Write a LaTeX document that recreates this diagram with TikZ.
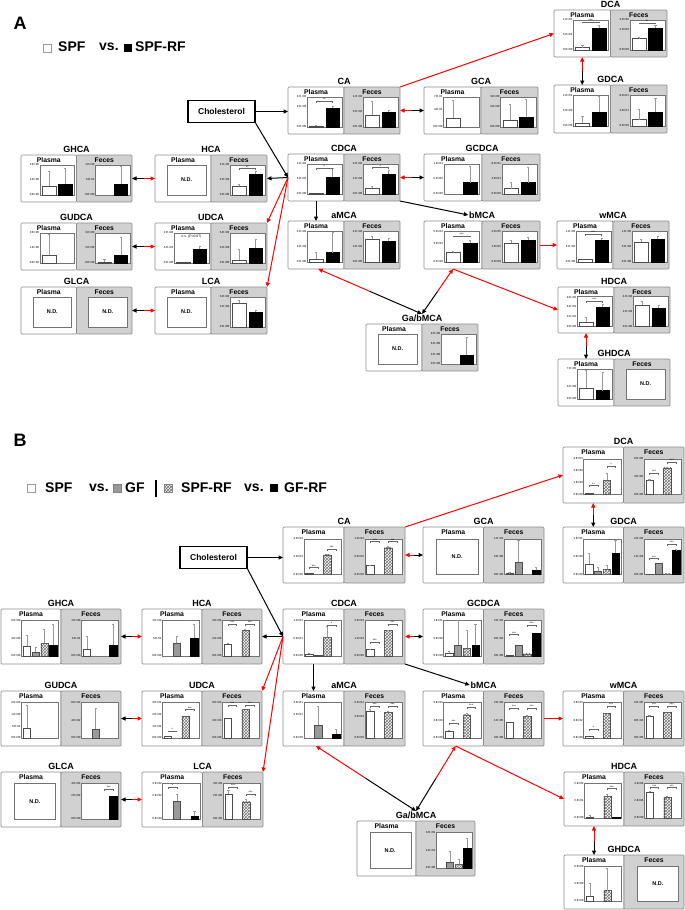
\documentclass[tikz,border=0pt]{standalone}
\usepackage{fontspec}
\setmainfont{Liberation Sans}
\usetikzlibrary{arrows.meta,calc,patterns}

\tikzset{
 sub/.style={draw=black!45, line width=0.7pt, rounded corners=1pt},
 sublab/.style={font=\bfseries\fontsize{6.8}{7.5}\selectfont, inner sep=0pt},
 ttl/.style={font=\bfseries\fontsize{9}{10}\selectfont, inner sep=0.5pt},
 frm/.style={draw=black!55, line width=0.4pt, fill=white},
 tk/.style={font=\fontsize{2.9}{3.2}\selectfont, anchor=east, inner sep=0.6pt},
 sg/.style={font=\fontsize{3.4}{3.5}\selectfont, inner sep=0.2pt, anchor=south},
 nsl/.style={font=\fontsize{3.4}{3.8}\selectfont, inner sep=0pt},
 ndl/.style={font=\bfseries\fontsize{5.5}{6}\selectfont, inner sep=0pt},
 bw/.style={draw=black!70, fill=white, line width=0.35pt},
 bgy/.style={draw=black!70, fill=black!40, line width=0.35pt},
 bh/.style={draw=black!70, fill=white, line width=0.35pt, postaction={pattern=crosshatch, pattern color=black!55}},
 bk/.style={draw=black, fill=black, line width=0.35pt},
 err/.style={draw=black!40, line width=0.3pt},
 arr/.style={-{Triangle[length=4.5pt,width=4pt]}, line width=1pt},
 chol/.style={draw=black, line width=1.2pt, font=\bfseries\fontsize{8.5}{10}\selectfont, minimum width=67pt, minimum height=22pt, inner sep=0pt},
 leg/.style={font=\bfseries\fontsize{14}{16}\selectfont, anchor=west, inner sep=0pt},
 lsq/.style={minimum size=8pt, inner sep=0pt},
 plab/.style={font=\bfseries\fontsize{18}{20}\selectfont, inner sep=0pt},
 pnl/.style={inner sep=0pt, outer sep=0pt}
}

\newcommand\subp[7]{%
 \pgfmathsetmacro\sbW{#3-#1}\pgfmathsetmacro\sbH{#4-#2}%
 \draw[sub,fill=#5] (#1,#2) rectangle (#3,#4);
 \node[sublab] at ({(#1+#3)/2},{#2+5.1}) {#6};
 \pgfmathsetmacro\pxa{#1+0.34*\sbW}%
 \pgfmathsetmacro\pyb{#4-0.15*\sbH}%
 \pgfmathsetmacro\pw{0.62*\sbW}%
 \pgfmathsetmacro\ph{0.64*\sbH}%
 \begin{scope}[shift={(\pxa,\pyb)},x={(\pw pt,0pt)},y={(0pt,\ph pt)}]
 #7
 \end{scope}}

\newcommand\chart[2]{%
 \draw[frm] (0,0) rectangle (1,1);
 \foreach \v/\t in {#1}{\node[tk] at (0,\v) {\t};}
 \foreach \s/\h/\e [count=\i] in {#2}{%
  \pgfmathsetmacro\sl{0.94/\nbars}%
  \pgfmathsetmacro\bxa{0.03+(\i-1)*\sl+0.08*\sl}%
  \pgfmathsetmacro\bxb{\bxa+0.84*\sl}%
  \pgfmathsetmacro\cx{(\bxa+\bxb)/2}%
  \ifdim\h pt>0pt \path[\s] (\bxa,0) rectangle (\bxb,\h);\fi
  \ifdim\e pt>0pt \draw[err] (\cx,\h) -- (\cx,{\h+\e}) ({\cx-0.03},{\h+\e}) -- ({\cx+0.03},{\h+\e});\fi
 }}

\newcommand\sig[4]{%
 \pgfmathsetmacro\sl{0.94/\nbars}%
 \pgfmathsetmacro\sxa{0.03+(#1-0.5)*\sl}%
 \pgfmathsetmacro\sxb{0.03+(#2-0.5)*\sl}%
 \draw[black!60,line width=0.3pt] (\sxa,{#3-0.05}) -- (\sxa,#3) -- (\sxb,#3) -- (\sxb,{#3-0.05});
 \node[sg] at ({(\sxa+\sxb)/2},#3) {#4};}

\newcommand\ND{\draw[frm] (-0.2,0) rectangle (0.92,1); \node[ndl] at (0.36,0.5) {N.D.};}

\newcommand\cmp[8]{%
 \pgfmathsetmacro\xm{(#3+#5)/2}%
 \subp{#3}{#4}{\xm}{#6}{white}{Plasma}{#7}
 \subp{\xm}{#4}{#5}{#6}{black!18}{Feces}{#8}
 \node[ttl] (#1-t) at ({(#3+#5)/2},{#4-6}) {#2};
 \pgfmathsetmacro\cW{#5-#3}\pgfmathsetmacro\cH{#6-#4}%
 \node[pnl,minimum width=\cW pt,minimum height=\cH pt] (#1) at ({(#3+#5)/2},{(#4+#6)/2}) {};}

\newcommand\dbl[2]{%
 \draw[arr,red] ($(#1)!0.5!(#2)$) -- (#1);
 \draw[arr,black] ($(#1)!0.5!(#2)$) -- (#2);}

\begin{document}
\begin{tikzpicture}[x=1pt,y=-1pt]
\useasboundingbox (0,0) rectangle (685,910);
\fill[white] (0,0) rectangle (685,910);

% ================= PANEL A =================
\node[plab] (labA) at (20,23) {A};
\node[lsq,draw=black!40,fill=white] (A-l1) at (47.5,48) {};
\node[leg] (A-l2) at (58,47) {SPF};
\node[leg] (A-l3) at (99,47) {vs.};
\node[lsq,fill=black] (A-l4) at (128,48) {};
\node[leg] (A-l5) at (135,47) {SPF-RF};
\node[chol] (A-chol) at (221.5,111.5) {Cholesterol};

\def\nbars{2}
\cmp{A-CA}{CA}{288}{87}{400}{134}
 {\chart{1/3.E+03,0.67/2.E+03,0/0.E+00}{bw/0.04/0.03,bk/0.62/0.08}\sig{1}{2}{0.86}{**}}
 {\chart{1/1.E+03,0.5/5.E+02,0/0.E+00}{bw/0.4/0.47,bk/0.5/0.05}}
\cmp{A-GCA}{GCA}{424}{87}{538}{134}
 {\chart{1/7.E-01,0.57/4.E-01,0/0.E+00}{bw/0.3/0.6,bk/0/0}}
 {\chart{1/3.E+00,0.67/2.E+00,0/0.E+00}{bw/0.22/0.55,bk/0.33/0.6}}
\cmp{A-DCA}{DCA}{554}{10}{667}{57}
 {\chart{1/1.E+03,0.5/5.E+02,0/0.E+00}{bw/0.08/0.07,bk/0.72/0.1}\sig{1}{2}{0.93}{***}}
 {\chart{1/3.E+00,0.67/2.E+00,0/0.E+00}{bw/0.38/0.06,bk/0.72/0.1}\sig{1}{2}{0.9}{**}}
\cmp{A-GDCA}{GDCA}{554}{85}{667}{133}
 {\chart{1/1.E+01,0.5/5.E+00,0/0.E+00}{bw/0.08/0.25,bk/0.45/0.5}}
 {\chart{1/8.E+01,0.5/4.E+01,0/0.E+00}{bw/0.2/0.35,bk/0.45/0.45}}
\cmp{A-GHCA}{GHCA}{21}{155}{132}{202}
 {\chart{1/2.E+00,0.5/1.E+00,0/0.E+00}{bw/0.3/0.5,bk/0.35/0.55}}
 {\chart{1/1.E+00,0.5/5.E-01,0/0.E+00}{bw/0/0,bk/0.35/0.6}}
\cmp{A-HCA}{HCA}{155}{155}{267}{202}
 {\ND}
 {\chart{1/4.E+03,0.5/2.E+03,0/0.E+00}{bw/0.3/0.05,bk/0.7/0.1}\sig{1}{2}{0.88}{**}}
\cmp{A-CDCA}{CDCA}{288}{154}{400}{201}
 {\chart{1/1.E+02,0.5/5.E+01,0/0.E+00}{bw/0.01/0,bk/0.55/0.3}\sig{1}{2}{0.85}{*}}
 {\chart{1/2.E+03,0.5/1.E+03,0/0.E+00}{bw/0.2/0.05,bk/0.65/0.15}\sig{1}{2}{0.88}{*}}
\cmp{A-GCDCA}{GCDCA}{424}{154}{540}{201}
 {\chart{1/1.E+01,0.5/5.E+00,0/0.E+00}{bw/0/0,bk/0.38/0.55}}
 {\chart{1/8.E+01,0.5/4.E+01,0/0.E+00}{bw/0.18/0.2,bk/0.38/0.5}}
\cmp{A-GUDCA}{GUDCA}{21}{223}{132}{270}
 {\chart{1/3.E+00,0.5/1.E+00,0/0.E+00}{bw/0.25/0.7,bk/0/0}}
 {\chart{1/3.E+00,0.5/2.E+00,0/0.E+00}{bw/0.04/0.1,bk/0.25/0.6}}
\cmp{A-UDCA}{UDCA}{155}{223}{267}{270}
 {\chart{1/2.E+02,0.5/5.E+01,0/0.E+00}{bw/0.02/0,bk/0.45/0.1}\node[nsl] at (0.5,0.88) {n.s. (P=0.07)};}
 {\chart{1/6.E+03,0.5/3.E+03,0/0.E+00}{bw/0.1/0.35,bk/0.5/0.3}}
\cmp{A-aMCA}{aMCA}{288}{221}{400}{269}
 {\chart{1/4.E+03,0.5/2.E+03,0/0.E+00}{bw/0.1/0.2,bk/0.3/0.65}}
 {\chart{1/4.E+04,0.5/2.E+04,0/0.E+00}{bw/0.75/0.1,bk/0.68/0.08}}
\cmp{A-bMCA}{bMCA}{424}{221}{540}{269}
 {\chart{1/5.E+03,0.6/3.E+03,0/0.E+00}{bw/0.3/0.05,bk/0.6/0.1}\sig{1}{2}{0.85}{***}}
 {\chart{1/2.E+05,0.5/1.E+05,0/0.E+00}{bw/0.6/0.1,bk/0.7/0.1}}
\cmp{A-wMCA}{wMCA}{557}{221}{669}{269}
 {\chart{1/1.E+03,0.5/5.E+02,0/0.E+00}{bw/0.08/0,bk/0.72/0.05}\sig{1}{2}{0.9}{***}}
 {\chart{1/1.E+05,0.5/5.E+04,0/0.E+00}{bw/0.65/0.1,bk/0.75/0.1}}
\cmp{A-GLCA}{GLCA}{21}{287}{132}{334}{\ND}{\ND}
\cmp{A-LCA}{LCA}{155}{287}{267}{334}
 {\ND}
 {\chart{1/3.E+04,0.67/2.E+04,0/0.E+00}{bw/0.78/0.1,bk/0.5/0.05}}
\cmp{A-HDCA}{HDCA}{558}{287}{670}{333}
 {\chart{0.97/9.E+01,0.67/6.E+01,0.33/3.E+01,0/0.E+00}{bw/0.15/0.15,bk/0.65/0.08}\sig{1}{2}{0.85}{***}}
 {\chart{1/4.E+04,0.5/2.E+04,0/0.E+00}{bw/0.72/0.12,bk/0.6/0.1}}
\cmp{A-GbMCA}{Ga/bMCA}{366}{324}{478}{371}
 {\ND}
 {\chart{1/9.E+00,0.67/6.E+00,0.33/3.E+00,0/0.E+00}{bw/0/0,bk/0.3/0.6}}
\cmp{A-GHDCA}{GHDCA}{558}{359}{670}{406}
 {\chart{1/7.E+00,0.43/3.E+00,0/0.E+00}{bw/0.35/0.6,bk/0.28/0.6}}
 {\ND}

% connectors A
\draw[arr] (A-chol.east) -- (A-chol.east -| A-CA.west);
\draw[arr] (A-chol.south east) -- (A-CDCA.west);
\dbl{A-CA.east}{A-GCA.west}
\draw[arr,red] (A-CA.north east) -- (A-DCA.west);
\dbl{$(A-DCA.south west)!0.25!(A-DCA.south east)$}{$(A-GDCA.north west)!0.25!(A-GDCA.north east)$}
\draw[arr] (A-CDCA.west) -- (A-HCA.east);
\dbl{A-HCA.west}{A-GHCA.east}
\dbl{A-CDCA.east}{A-GCDCA.west}
\draw[arr] ($(A-CDCA.south west)!0.25!(A-CDCA.south east)$) -- ($(A-aMCA.north west)!0.25!(A-aMCA.north east)$);
\draw[arr] (A-CDCA.south east) -- (A-bMCA-t.west);
\draw[arr,red] (A-CDCA.west) -- (A-UDCA.north east);
\draw[arr,red] (A-CDCA.west) -- (A-LCA.north east);
\dbl{A-UDCA.west}{A-GUDCA.east}
\dbl{A-LCA.west}{A-GLCA.east}
\draw[arr,red] (A-bMCA.east) -- (A-wMCA.west);
\dbl{$(A-aMCA.south west)!0.27!(A-aMCA.south east)$}{A-GbMCA-t.north}
\dbl{$(A-bMCA.south west)!0.25!(A-bMCA.south east)$}{A-GbMCA-t.north}
\draw[arr,red] ($(A-bMCA.south west)!0.25!(A-bMCA.south east)$) -- (A-HDCA.west);
\dbl{$(A-HDCA.south west)!0.25!(A-HDCA.south east)$}{$(A-GHDCA.north west)!0.25!(A-GHDCA.north east)$}

% ================= PANEL B =================
\node[plab] (labB) at (20,440) {B};
\node[lsq,draw=black!40,fill=white] (B-l1) at (31,488) {};
\node[leg] (B-l2) at (45,488) {SPF};
\node[leg] (B-l3) at (89,488) {vs.};
\node[lsq,draw=black!50,fill=black!40] (B-l4) at (117,488) {};
\node[leg] (B-l5) at (125,488) {GF};
\draw[line width=1.1pt] (156,480) -- (156,497);
\node[lsq,draw=black!50,pattern=crosshatch,pattern color=black!60] (B-l6) at (168,488) {};
\node[leg] (B-l7) at (181,488) {SPF-RF};
\node[leg] (B-l8) at (244,488) {vs.};
\node[lsq,fill=black] (B-l9) at (273.5,488) {};
\node[leg] (B-l10) at (284,488) {GF-RF};
\node[chol] (B-chol) at (213.5,557.5) {Cholesterol};

\def\nbars{4}
\cmp{B-CA}{CA}{283}{527}{405}{583}
 {\chart{1/4.E+03,0.5/2.E+03,0/0.E+00}{bw/0.04/0,bgy/0/0,bh/0.55/0.03,bk/0/0}\sig{1}{2}{0.2}{***}\sig{3}{4}{0.72}{***}}
 {\chart{1/1.E+03,0.5/5.E+02,0/0.E+00}{bw/0.25/0.02,bgy/0/0,bh/0.75/0.05,bk/0/0}\sig{1}{2}{0.92}{***}\sig{3}{4}{0.92}{***}}
\cmp{B-GCA}{GCA}{423}{527}{544}{583}
 {\ND}
 {\chart{1/1.E+01,0.5/5.E+00,0/0.E+00}{bw/0.03/0.05,bgy/0.35/0.6,bh/0/0,bk/0.12/0.1}}
\cmp{B-DCA}{DCA}{563}{447}{684}{503}
 {\chart{1/3.E+03,0.67/2.E+03,0.33/1.E+03,0/0.E+00}{bw/0.05/0,bgy/0/0,bh/0.4/0.2,bk/0/0}\sig{1}{2}{0.25}{**}\sig{3}{4}{0.8}{*}}
 {\chart{1/6.E+05,0.5/3.E+05,0/0.E+00}{bw/0.4/0.02,bgy/0/0,bh/0.75/0.02,bk/0/0}\sig{1}{2}{0.6}{***}\sig{3}{4}{0.9}{***}}
\cmp{B-GDCA}{GDCA}{563}{527}{684}{583}
 {\chart{1/1.E+01,0.5/5.E+00,0/0.E+00}{bw/0.3/0.3,bgy/0.1/0.1,bh/0.15/0.1,bk/0.6/0.35}}
 {\chart{1/2.E+03,0.5/1.E+03,0/0.E+00}{bw/0.02/0,bgy/0.33/0,bh/0.02/0,bk/0.67/0.05}\sig{1}{2}{0.45}{***}\sig{3}{4}{0.85}{***}}
\cmp{B-GHCA}{GHCA}{1}{609}{121}{664}
 {\chart{1/6.E+00,0.5/3.E+00,0/0.E+00}{bw/0.28/0.3,bgy/0.1/0.15,bh/0.35/0.4,bk/0.3/0.6}}
 {\chart{1/1.E+00,0.5/5.E-01,0/0.E+00}{bw/0.2/0.35,bgy/0/0,bh/0/0,bk/0.3/0.6}}
\cmp{B-HCA}{HCA}{142}{609}{262}{664}
 {\chart{1/1.E+00,0.5/5.E-01,0/0.E+00}{bw/0/0,bgy/0.35/0.2,bh/0/0,bk/0.5/0.4}}
 {\chart{1/4.E+03,0.5/2.E+03,0/0.E+00}{bw/0.33/0.03,bgy/0/0,bh/0.72/0.03,bk/0/0}\sig{1}{2}{0.9}{***}\sig{3}{4}{0.9}{***}}
\cmp{B-CDCA}{CDCA}{283}{609}{405}{664}
 {\chart{1/1.E+02,0.5/5.E+01,0/0.E+00}{bw/0.05/0.02,bgy/0.02/0,bh/0.53/0.3,bk/0/0}\sig{3}{4}{0.88}{*}}
 {\chart{1/2.E+03,0.5/1.E+03,0/0.E+00}{bw/0.18/0.02,bgy/0/0,bh/0.72/0.02,bk/0/0}\sig{1}{2}{0.38}{***}\sig{3}{4}{0.9}{***}}
\cmp{B-GCDCA}{GCDCA}{423}{609}{544}{664}
 {\chart{1/1.E+01,0.5/5.E+00,0/0.E+00}{bw/0.08/0.05,bgy/0.3/0.7,bh/0.22/0.5,bk/0.3/0.6}}
 {\chart{1/2.E+03,0.5/8.E+02,0/0.E+00}{bw/0.02/0,bgy/0.3/0,bh/0.05/0,bk/0.65/0}\sig{1}{2}{0.6}{***}\sig{3}{4}{0.87}{***}}
\cmp{B-GUDCA}{GUDCA}{1}{691}{121}{746}
 {\chart{1/2.E+00,0.67/1.E+00,0.33/5.E-01,0/0.E+00}{bw/0.28/0.65,bgy/0/0,bh/0/0,bk/0/0}}
 {\chart{1/8.E+02,0.5/4.E+02,0/0.E+00}{bw/0/0,bgy/0.25/0.6,bh/0/0,bk/0/0}}
\cmp{B-UDCA}{UDCA}{142}{691}{262}{746}
 {\chart{1/3.E+02,0.67/2.E+02,0.33/1.E+02,0/0.E+00}{bw/0.05/0,bgy/0/0,bh/0.6/0,bk/0/0}\sig{1}{2}{0.2}{*}\sig{3}{4}{0.8}{***}}
 {\chart{1/6.E+03,0.5/3.E+03,0/0.E+00}{bw/0.55/0,bgy/0/0,bh/0.8/0,bk/0/0}\sig{1}{2}{0.92}{***}\sig{3}{4}{0.92}{***}}
\cmp{B-aMCA}{aMCA}{283}{691}{405}{746}
 {\chart{1/3.E+01,0.67/2.E+01,0/0.E+00}{bw/0/0,bgy/0.35/0.55,bh/0/0,bk/0.1/0.15}}
 {\chart{1/5.E+04,0.6/3.E+04,0/0.E+00}{bw/0.75/0.05,bgy/0/0,bh/0.72/0.05,bk/0/0}\sig{1}{2}{0.9}{***}\sig{3}{4}{0.9}{***}}
\cmp{B-bMCA}{bMCA}{423}{691}{544}{746}
 {\chart{1/6.E+03,0.5/3.E+03,0/0.E+00}{bw/0.2/0.02,bgy/0/0,bh/0.65/0.05,bk/0/0}\sig{1}{2}{0.42}{***}\sig{3}{4}{0.88}{***}}
 {\chart{1/2.E+05,0.5/1.E+05,0/0.E+00}{bw/0.45/0,bgy/0/0,bh/0.6/0.05,bk/0/0}\sig{1}{2}{0.85}{***}\sig{3}{4}{0.85}{***}}
\cmp{B-wMCA}{wMCA}{563}{691}{684}{746}
 {\chart{1/2.E+03,0.5/8.E+02,0/0.E+00}{bw/0.05/0,bgy/0/0,bh/0.7/0,bk/0/0}\sig{1}{2}{0.25}{*}\sig{3}{4}{0.9}{***}}
 {\chart{1/2.E+05,0.5/8.E+04,0/0.E+00}{bw/0.6/0.05,bgy/0/0,bh/0.72/0,bk/0/0}\sig{1}{2}{0.9}{***}\sig{3}{4}{0.9}{***}}
\cmp{B-GLCA}{GLCA}{1}{772}{121}{827}
 {\ND}
 {\chart{1/3.E+02,0.67/2.E+02,0/0.E+00}{bw/0/0,bgy/0/0,bh/0/0,bk/0.65/0}\sig{3}{4}{0.85}{***}}
\cmp{B-LCA}{LCA}{142}{772}{263}{827}
 {\chart{1/3.E+02,0.67/2.E+02,0/0.E+00}{bw/0/0,bgy/0.5/0.2,bh/0/0,bk/0.07/0.15}\sig{1}{2}{0.9}{*}}
 {\chart{1/3.E+04,0.67/2.E+04,0/0.E+00}{bw/0.7/0.1,bgy/0/0,bh/0.48/0.08,bk/0/0}\sig{1}{2}{0.9}{***}\sig{3}{4}{0.7}{***}}
\cmp{B-HDCA}{HDCA}{564}{772}{684}{826}
 {\chart{1/2.E+02,0.5/5.E+01,0/0.E+00}{bw/0.03/0.05,bgy/0/0,bh/0.62/0.08,bk/0.02/0}\sig{3}{4}{0.85}{***}}
 {\chart{1/4.E+04,0.5/2.E+04,0/0.E+00}{bw/0.75/0.02,bgy/0/0,bh/0.6/0.02,bk/0/0}\sig{1}{2}{0.88}{***}\sig{3}{4}{0.88}{***}}
\cmp{B-GbMCA}{Ga/bMCA}{357}{821}{475}{876}
 {\ND}
 {\chart{1/3.E+01,0.5/2.E+01,0/0.E+00}{bw/0/0,bgy/0.17/0.3,bh/0.1/0.15,bk/0.55/0.3}}
\cmp{B-GHDCA}{GHDCA}{564}{855}{684}{909}
 {\chart{1/6.E+00,0.5/3.E+00,0/0.E+00}{bw/0.15/0.35,bgy/0/0,bh/0.3/0.65,bk/0/0}}
 {\ND}

% connectors B
\draw[arr] (B-chol.east) -- (B-chol.east -| B-CA.west);
\draw[arr] (B-chol.south east) -- (B-CDCA.west);
\dbl{B-CA.east}{B-GCA.west}
\draw[arr,red] (B-CA.north east) -- (B-DCA.west);
\dbl{$(B-DCA.south west)!0.25!(B-DCA.south east)$}{$(B-GDCA.north west)!0.25!(B-GDCA.north east)$}
\draw[arr] (B-CDCA.west) -- (B-HCA.east);
\dbl{B-HCA.west}{B-GHCA.east}
\dbl{B-CDCA.east}{B-GCDCA.west}
\draw[arr] ($(B-CDCA.south west)!0.25!(B-CDCA.south east)$) -- ($(B-aMCA.north west)!0.25!(B-aMCA.north east)$);
\draw[arr] (B-CDCA.south east) -- (B-bMCA-t.west);
\draw[arr,red] (B-CDCA.west) -- (B-UDCA.north east);
\draw[arr,red] (B-CDCA.west) -- (B-LCA.north east);
\dbl{B-UDCA.west}{B-GUDCA.east}
\dbl{B-LCA.west}{B-GLCA.east}
\draw[arr,red] (B-bMCA.east) -- (B-wMCA.west);
\dbl{$(B-aMCA.south west)!0.27!(B-aMCA.south east)$}{B-GbMCA-t.north}
\dbl{$(B-bMCA.south west)!0.27!(B-bMCA.south east)$}{B-GbMCA-t.north}
\draw[arr,red] ($(B-bMCA.south west)!0.27!(B-bMCA.south east)$) -- (B-HDCA.west);
\dbl{$(B-HDCA.south west)!0.25!(B-HDCA.south east)$}{$(B-GHDCA.north west)!0.25!(B-GHDCA.north east)$}
\end{tikzpicture}
\end{document}
